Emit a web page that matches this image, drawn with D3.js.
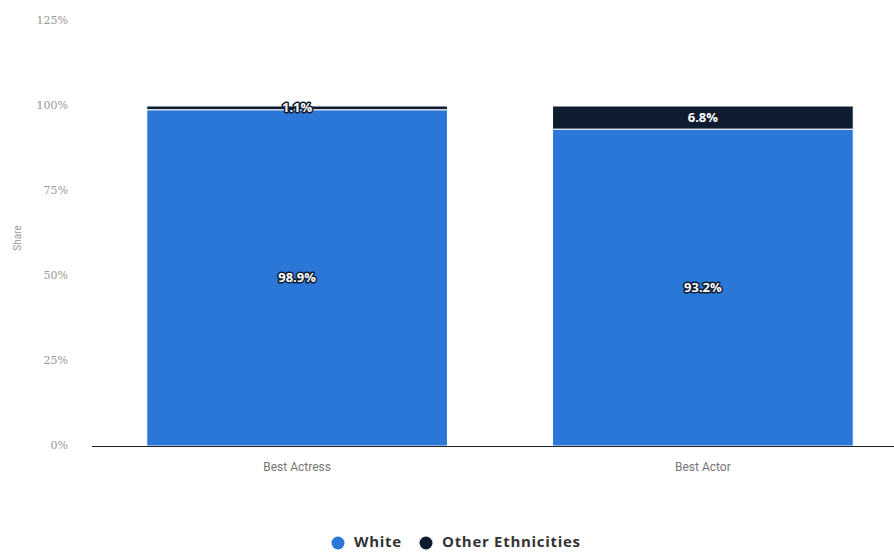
<!DOCTYPE html>
<html>
<head>
<meta charset="utf-8">
<script src="https://cdn.jsdelivr.net/npm/d3@7"></script>
<style>
  body { margin: 0; background: #fff; }
  svg { display: block; }
</style>
</head>
<body>
<div id="chart"></div>
<script>
const categories = ["Best Actress", "Best Actor"];
const seriesNames = ["White", "Other Ethnicities"];
const whiteValues = [98.9, 93.2];
const otherValues = [1.1, 6.8];
const yTicks = [0, 25, 50, 75, 100, 125];
const seriesColors = ["#2a77d8", "#0d1c2f"];

const width = 894, height = 552;
const svg = d3.select("#chart").append("svg").attr("width", width).attr("height", height);

// build rows for the stack
const rows = categories.map((c, i) => ({ category: c, White: whiteValues[i], "Other Ethnicities": otherValues[i] }));
const stacked = d3.stack().keys(seriesNames)(rows);

const x = d3.scaleBand()
  .domain(categories)
  .range([92, 908])
  .paddingInner(0.259)
  .paddingOuter(0.135);

const y = d3.scaleLinear().domain([0, 125]).range([446, 21]);

// y tick labels
svg.append("g")
  .selectAll("text")
  .data(yTicks)
  .enter()
  .append("text")
  .attr("x", 68)
  .attr("y", (d) => y(d))
  .attr("text-anchor", "end")
  .attr("dominant-baseline", "middle")
  .attr("font-family", "DejaVu Serif, serif")
  .attr("font-size", "11px")
  .attr("fill", "#999")
  .text((d) => d + "%");

// y axis title
svg.append("text")
  .attr("transform", "translate(21,238) rotate(-90)")
  .attr("text-anchor", "middle")
  .attr("font-family", "Roboto, sans-serif")
  .attr("font-size", "10px")
  .attr("fill", "#999")
  .text("Share");

// bars
const layers = svg.selectAll(".layer")
  .data(stacked)
  .enter()
  .append("g")
  .attr("class", "layer")
  .attr("fill", (d, i) => seriesColors[i]);

layers.selectAll("rect")
  .data((d) => d)
  .enter()
  .append("rect")
  .attr("x", (d) => x(d.data.category))
  .attr("width", x.bandwidth())
  .attr("y", (d) => y(d[1]))
  .attr("height", (d) => y(d[0]) - y(d[1]))
  .attr("stroke", "#fff")
  .attr("stroke-width", 1);

// x axis baseline
svg.append("line")
  .attr("x1", 92).attr("x2", width)
  .attr("y1", 446.5).attr("y2", 446.5)
  .attr("stroke", "#222")
  .attr("stroke-width", 1);

// category labels
svg.append("g")
  .selectAll("text")
  .data(categories)
  .enter()
  .append("text")
  .attr("x", (d) => x(d) + x.bandwidth() / 2)
  .attr("y", 468)
  .attr("text-anchor", "middle")
  .attr("dominant-baseline", "middle")
  .attr("font-family", "Roboto, sans-serif")
  .attr("font-size", "12px")
  .attr("fill", "#777")
  .text((d) => d);

// value labels
const labelData = [];
stacked.forEach((layer) => {
  layer.forEach((d) => {
    labelData.push({ category: d.data.category, v: d[1] - d[0], mid: (d[0] + d[1]) / 2 });
  });
});

svg.append("g")
  .selectAll("text")
  .data(labelData)
  .enter()
  .append("text")
  .attr("x", (d) => x(d.category) + x.bandwidth() / 2)
  .attr("y", (d) => y(d.mid) + 1)
  .attr("text-anchor", "middle")
  .attr("dominant-baseline", "middle")
  .attr("font-family", "Open Sans, sans-serif")
  .attr("font-size", "13px")
  .attr("font-weight", "bold")
  .attr("fill", "#fff")
  .attr("stroke", "#0d1c2f")
  .attr("stroke-width", 3)
  .attr("stroke-linejoin", "round")
  .attr("paint-order", "stroke")
  .text((d) => d.v.toFixed(1) + "%");

// legend
const legendX = [338, 426];
const legend = svg.append("g")
  .selectAll("g")
  .data(seriesNames)
  .enter()
  .append("g")
  .attr("transform", (d, i) => `translate(${legendX[i]}, 543)`);

legend.append("circle")
  .attr("r", 6.5)
  .attr("fill", (d, i) => seriesColors[i]);

legend.append("text")
  .attr("x", 16)
  .attr("dominant-baseline", "middle")
  .attr("font-family", "Open Sans, sans-serif")
  .attr("font-size", "15px")
  .attr("font-weight", "bold")
  .attr("letter-spacing", "0.7px")
  .attr("fill", "#333")
  .text((d) => d);
</script>
</body>
</html>
